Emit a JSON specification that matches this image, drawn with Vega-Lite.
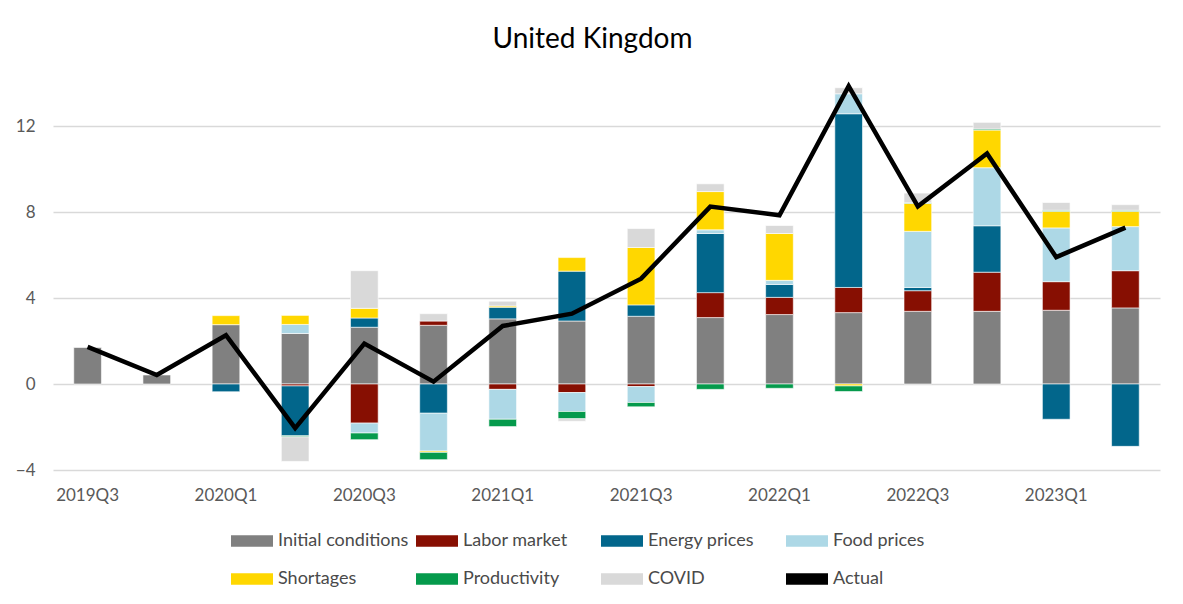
{
  "$schema": "https://vega.github.io/schema/vega-lite/v6.json",
  "width": 1107,
  "height": 387,
  "autosize": {"type": "none"},
  "padding": {"left": 53, "top": 83, "right": 23, "bottom": 134},
  "background": "white",
  "title": {"text": "United Kingdom", "font": "Lato", "fontSize": 28, "fontWeight": "normal", "color": "#000000", "anchor": "middle", "offset": 23, "dx": -14},
  "config": {
    "view": {"stroke": null},
    "axis": {"labelFont": "Lato", "labelFontSize": 17, "labelColor": "#595959", "ticks": false, "domain": false, "title": null},
    "legend": {"labelFont": "Lato", "labelFontSize": 18, "labelColor": "#4a4a4a"}
  },
  "datasets": {
    "bars": [
      {"q": "2019Q3", "series": "Initial conditions", "v": 1.70},
      {"q": "2019Q4", "series": "Initial conditions", "v": 0.42},
      {"q": "2020Q1", "series": "Initial conditions", "v": 2.76},
      {"q": "2020Q1", "series": "Energy prices", "v": -0.36},
      {"q": "2020Q1", "series": "Shortages", "v": 0.42},
      {"q": "2020Q2", "series": "Initial conditions", "v": 2.35},
      {"q": "2020Q2", "series": "Labor market", "v": -0.09},
      {"q": "2020Q2", "series": "Energy prices", "v": -2.32},
      {"q": "2020Q2", "series": "Food prices", "v": 0.42},
      {"q": "2020Q2", "series": "Shortages", "v": 0.42},
      {"q": "2020Q2", "series": "Productivity", "v": -0.05},
      {"q": "2020Q2", "series": "COVID", "v": -1.14},
      {"q": "2020Q3", "series": "Initial conditions", "v": 2.64},
      {"q": "2020Q3", "series": "Labor market", "v": -1.82},
      {"q": "2020Q3", "series": "Energy prices", "v": 0.43},
      {"q": "2020Q3", "series": "Food prices", "v": -0.46},
      {"q": "2020Q3", "series": "Shortages", "v": 0.45},
      {"q": "2020Q3", "series": "Productivity", "v": -0.31},
      {"q": "2020Q3", "series": "COVID", "v": 1.75},
      {"q": "2020Q4", "series": "Initial conditions", "v": 2.73},
      {"q": "2020Q4", "series": "Labor market", "v": 0.20},
      {"q": "2020Q4", "series": "Energy prices", "v": -1.36},
      {"q": "2020Q4", "series": "Food prices", "v": -1.76},
      {"q": "2020Q4", "series": "Shortages", "v": -0.06},
      {"q": "2020Q4", "series": "Productivity", "v": -0.34},
      {"q": "2020Q4", "series": "COVID", "v": 0.34},
      {"q": "2021Q1", "series": "Initial conditions", "v": 3.03},
      {"q": "2021Q1", "series": "Labor market", "v": -0.25},
      {"q": "2021Q1", "series": "Energy prices", "v": 0.54},
      {"q": "2021Q1", "series": "Food prices", "v": -1.39},
      {"q": "2021Q1", "series": "Shortages", "v": 0.06},
      {"q": "2021Q1", "series": "Productivity", "v": -0.34},
      {"q": "2021Q1", "series": "COVID", "v": 0.22},
      {"q": "2021Q2", "series": "Initial conditions", "v": 2.93},
      {"q": "2021Q2", "series": "Labor market", "v": -0.40},
      {"q": "2021Q2", "series": "Energy prices", "v": 2.32},
      {"q": "2021Q2", "series": "Food prices", "v": -0.88},
      {"q": "2021Q2", "series": "Shortages", "v": 0.63},
      {"q": "2021Q2", "series": "Productivity", "v": -0.34},
      {"q": "2021Q2", "series": "COVID", "v": -0.11},
      {"q": "2021Q3", "series": "Initial conditions", "v": 3.15},
      {"q": "2021Q3", "series": "Labor market", "v": -0.12},
      {"q": "2021Q3", "series": "Energy prices", "v": 0.53},
      {"q": "2021Q3", "series": "Food prices", "v": -0.74},
      {"q": "2021Q3", "series": "Shortages", "v": 2.67},
      {"q": "2021Q3", "series": "Productivity", "v": -0.20},
      {"q": "2021Q3", "series": "COVID", "v": 0.88},
      {"q": "2021Q4", "series": "Initial conditions", "v": 3.09},
      {"q": "2021Q4", "series": "Labor market", "v": 1.16},
      {"q": "2021Q4", "series": "Energy prices", "v": 2.75},
      {"q": "2021Q4", "series": "Food prices", "v": 0.17},
      {"q": "2021Q4", "series": "Shortages", "v": 1.78},
      {"q": "2021Q4", "series": "Productivity", "v": -0.25},
      {"q": "2021Q4", "series": "COVID", "v": 0.36},
      {"q": "2022Q1", "series": "Initial conditions", "v": 3.23},
      {"q": "2022Q1", "series": "Labor market", "v": 0.80},
      {"q": "2022Q1", "series": "Energy prices", "v": 0.60},
      {"q": "2022Q1", "series": "Food prices", "v": 0.19},
      {"q": "2022Q1", "series": "Shortages", "v": 2.18},
      {"q": "2022Q1", "series": "Productivity", "v": -0.20},
      {"q": "2022Q1", "series": "COVID", "v": 0.37},
      {"q": "2022Q2", "series": "Initial conditions", "v": 3.32},
      {"q": "2022Q2", "series": "Labor market", "v": 1.17},
      {"q": "2022Q2", "series": "Energy prices", "v": 8.08},
      {"q": "2022Q2", "series": "Food prices", "v": 0.93},
      {"q": "2022Q2", "series": "Shortages", "v": -0.09},
      {"q": "2022Q2", "series": "Productivity", "v": -0.26},
      {"q": "2022Q2", "series": "COVID", "v": 0.28},
      {"q": "2022Q3", "series": "Initial conditions", "v": 3.38},
      {"q": "2022Q3", "series": "Labor market", "v": 0.96},
      {"q": "2022Q3", "series": "Energy prices", "v": 0.15},
      {"q": "2022Q3", "series": "Food prices", "v": 2.61},
      {"q": "2022Q3", "series": "Shortages", "v": 1.30},
      {"q": "2022Q3", "series": "Productivity", "v": 0.03},
      {"q": "2022Q3", "series": "COVID", "v": 0.45},
      {"q": "2022Q4", "series": "Initial conditions", "v": 3.38},
      {"q": "2022Q4", "series": "Labor market", "v": 1.82},
      {"q": "2022Q4", "series": "Energy prices", "v": 2.16},
      {"q": "2022Q4", "series": "Food prices", "v": 2.70},
      {"q": "2022Q4", "series": "Shortages", "v": 1.75},
      {"q": "2022Q4", "series": "Productivity", "v": 0.05},
      {"q": "2022Q4", "series": "COVID", "v": 0.31},
      {"q": "2023Q1", "series": "Initial conditions", "v": 3.43},
      {"q": "2023Q1", "series": "Labor market", "v": 1.33},
      {"q": "2023Q1", "series": "Energy prices", "v": -1.64},
      {"q": "2023Q1", "series": "Food prices", "v": 2.50},
      {"q": "2023Q1", "series": "Shortages", "v": 0.77},
      {"q": "2023Q1", "series": "Productivity", "v": 0.05},
      {"q": "2023Q1", "series": "COVID", "v": 0.36},
      {"q": "2023Q2", "series": "Initial conditions", "v": 3.54},
      {"q": "2023Q2", "series": "Labor market", "v": 1.73},
      {"q": "2023Q2", "series": "Energy prices", "v": -2.90},
      {"q": "2023Q2", "series": "Food prices", "v": 2.05},
      {"q": "2023Q2", "series": "Shortages", "v": 0.71},
      {"q": "2023Q2", "series": "Productivity", "v": 0.05},
      {"q": "2023Q2", "series": "COVID", "v": 0.26}
    ],
    "actual": [
      {"q": "2019Q3", "actual": 1.73},
      {"q": "2019Q4", "actual": 0.42},
      {"q": "2020Q1", "actual": 2.27},
      {"q": "2020Q2", "actual": -2.05},
      {"q": "2020Q3", "actual": 1.88},
      {"q": "2020Q4", "actual": 0.11},
      {"q": "2021Q1", "actual": 2.70},
      {"q": "2021Q2", "actual": 3.27},
      {"q": "2021Q3", "actual": 4.90},
      {"q": "2021Q4", "actual": 8.25},
      {"q": "2022Q1", "actual": 7.85},
      {"q": "2022Q2", "actual": 13.85},
      {"q": "2022Q3", "actual": 8.26},
      {"q": "2022Q4", "actual": 10.72},
      {"q": "2023Q1", "actual": 5.90},
      {"q": "2023Q2", "actual": 7.27}
    ]
  },
  "encoding": {
    "x": {
      "field": "q", "type": "nominal", "sort": null,
      "scale": {"paddingInner": 0.6, "paddingOuter": 0.3},
      "axis": {"labelAngle": 0, "labelPadding": 17, "grid": false,
        "values": ["2019Q3", "2020Q1", "2020Q3", "2021Q1", "2021Q3", "2022Q1", "2022Q3", "2023Q1"]}
    }
  },
  "layer": [
    {
      "data": {"name": "bars"},
      "transform": [
        {"calculate": "indexof(['Initial conditions','Labor market','Energy prices','Food prices','Shortages','Productivity','COVID'], datum.series)", "as": "ord"}
      ],
      "mark": {"type": "bar", "stroke": "white", "strokeWidth": 0.6},
      "encoding": {
        "y": {
          "field": "v", "type": "quantitative", "stack": "zero",
          "scale": {"domain": [-4, 14], "nice": false},
          "axis": {"values": [-4, 0, 4, 8, 12], "grid": true, "gridColor": "#d9d9d9", "gridWidth": 1.3, "labelPadding": 18}
        },
        "order": {"field": "ord", "type": "quantitative"},
        "color": {
          "field": "series", "type": "nominal",
          "scale": {
            "domain": ["Initial conditions", "Labor market", "Energy prices", "Food prices", "Shortages", "Productivity", "COVID", "Actual"],
            "range": ["#808080", "#870F02", "#02668B", "#ADD8E6", "#FFD700", "#059A4C", "#D9D9D9", "#000000"]
          },
          "legend": {
            "title": null, "orient": "none", "legendX": 178, "legendY": 437,
            "direction": "horizontal", "columns": 4, "gridAlign": "all",
            "columnPadding": 7, "rowPadding": 8, "labelOffset": 5,
            "symbolSize": 1764, "symbolStrokeWidth": 0, "symbolOpacity": 1,
            "symbolType": "M-1,-0.274L1,-0.274L1,0.274L-1,0.274Z",
            "encode": {
              "symbols": {
                "update": {
                  "shape": {"signal": "datum.value === 'Actual' ? 'M-1,0L1,0' : 'M-1,-0.274L1,-0.274L1,0.274L-1,0.274Z'"},
                  "fill": {"signal": "datum.value === 'Actual' ? 'transparent' : scale('color', datum.value)"},
                  "stroke": {"signal": "datum.value === 'Actual' ? '#000000' : 'transparent'"},
                  "strokeWidth": {"signal": "datum.value === 'Actual' ? 2.5 : 0"},
                  "strokeCap": {"value": "round"},
                  "opacity": {"value": 1}
                }
              }
            }
          }
        }
      }
    },
    {
      "data": {"name": "actual"},
      "mark": {"type": "line", "strokeWidth": 4.5, "strokeJoin": "miter"},
      "encoding": {
        "y": {"field": "actual", "type": "quantitative"},
        "color": {"datum": "Actual"}
      }
    }
  ]
}
